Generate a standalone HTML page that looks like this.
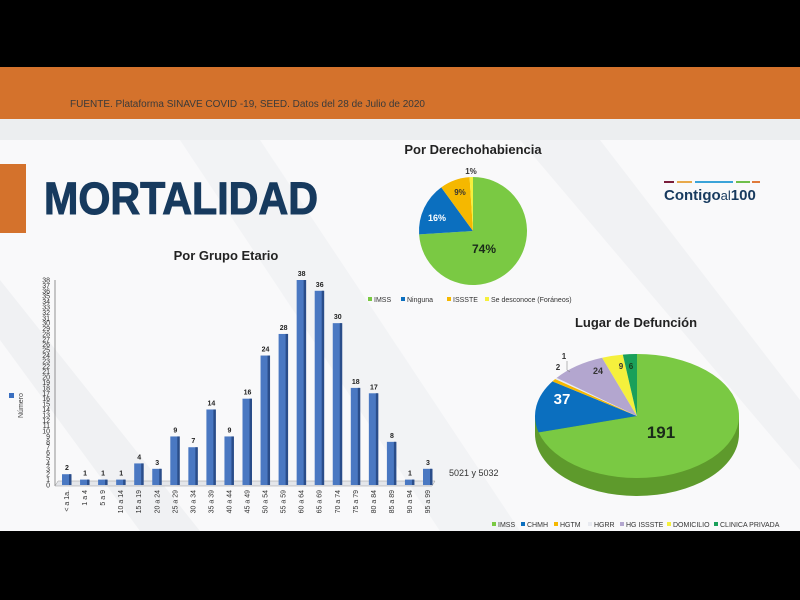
<!DOCTYPE html>
<html><head><meta charset="utf-8">
<style>
html,body{margin:0;padding:0;width:800px;height:600px;overflow:hidden;background:#000;}
svg{display:block;font-family:"Liberation Sans",sans-serif;}
</style></head>
<body>
<svg id="s" width="800" height="600" viewBox="0 0 800 600" xmlns="http://www.w3.org/2000/svg">
<rect x="0" y="0" width="800" height="600" fill="#000"/>
<rect x="0" y="67" width="800" height="464" fill="#f9f9fa"/>
<polygon points="180,140 260,140 520,531 440,531" fill="#f2f3f5"/>
<polygon points="520,140 600,140 800,400 800,470" fill="#f1f2f4"/>
<polygon points="0,280 0,340 140,531 200,531" fill="#f0f1f3"/>
<rect x="0" y="67" width="800" height="52" fill="#d4722c"/>
<rect x="0" y="119" width="800" height="21" fill="#eceef0"/>
<text x="70" y="107" font-size="10" fill="#3a3a3a">FUENTE. Plataforma SINAVE COVID -19, SEED. Datos del 28 de Julio de 2020</text>
<rect x="0" y="164" width="26" height="69" fill="#d4722c"/>
<text x="44" y="214" font-size="45" font-weight="bold" fill="#173a5e" stroke="#173a5e" stroke-width="1" textLength="274" lengthAdjust="spacingAndGlyphs">MORTALIDAD</text>
<text x="226" y="260" font-size="13" font-weight="bold" fill="#222" text-anchor="middle">Por Grupo Etario</text>
<text x="473" y="154" font-size="13" font-weight="bold" fill="#222" text-anchor="middle">Por Derechohabiencia</text>
<text x="636" y="327" font-size="13" font-weight="bold" fill="#222" text-anchor="middle">Lugar de Defunción</text>
<rect x="664" y="181" width="10" height="2" fill="#7a1d3a"/><rect x="677" y="181" width="15" height="2" fill="#e8a94a"/><rect x="695" y="181" width="38" height="2" fill="#3aa3d8"/><rect x="736" y="181" width="14" height="2" fill="#6fbf4a"/><rect x="752" y="181" width="8" height="2" fill="#e07a3a"/>
<text x="664" y="200" font-size="15" font-weight="bold" fill="#173a5e">Contigo<tspan font-weight="normal" font-size="13">al</tspan>100</text>
<g id="bars"></g>
<g id="p1"></g>
<g id="p2"></g>
<rect x="9" y="393" width="5" height="5" fill="#3a6fc0"/>
<text transform="translate(23,418) rotate(-90)" font-size="7" fill="#444">Número</text>
<text x="449" y="476" font-size="9" fill="#333">5021 y 5032</text>
<g font-size="7" fill="#333">
<rect x="368" y="297" width="4" height="4" fill="#7ac943"/><text x="374" y="302">IMSS</text>
<rect x="401" y="297" width="4" height="4" fill="#0b6fbf"/><text x="407" y="302">Ninguna</text>
<rect x="447" y="297" width="4" height="4" fill="#f5b800"/><text x="453" y="302">ISSSTE</text>
<rect x="485" y="297" width="4" height="4" fill="#f5f03c"/><text x="491" y="302">Se desconoce (Foráneos)</text>
</g>
<g font-size="7" fill="#333">
<rect x="492" y="522" width="4" height="4" fill="#7ac943"/><text x="498" y="527">IMSS</text>
<rect x="521" y="522" width="4" height="4" fill="#0b6fbf"/><text x="527" y="527">CHMH</text>
<rect x="554" y="522" width="4" height="4" fill="#f5b800"/><text x="560" y="527">HGTM</text>
<rect x="588" y="522" width="4" height="4" fill="#e8eaf0"/><text x="594" y="527">HGRR</text>
<rect x="620" y="522" width="4" height="4" fill="#b3a6cf"/><text x="626" y="527">HG ISSSTE</text>
<rect x="667" y="522" width="4" height="4" fill="#f5f03c"/><text x="673" y="527">DOMICILIO</text>
<rect x="714" y="522" width="4" height="4" fill="#1aa05a"/><text x="720" y="527">CLINICA PRIVADA</text>
</g>
</svg>
<script>
(function(){
var NS="http://www.w3.org/2000/svg";
function el(p,t,a,txt){var e=document.createElementNS(NS,t);for(var k in a)e.setAttribute(k,a[k]);if(txt!=null)e.textContent=txt;p.appendChild(e);return e;}
var g=document.getElementById('bars');
var vals=[2,1,1,1,4,3,9,7,14,9,16,24,28,38,36,30,18,17,8,1,3];
var cats=["< a 1a.","1 a 4","5 a 9","10 a 14","15 a 19","20 a 24","25 a 29","30 a 34","35 a 39","40 a 44","45 a 49","50 a 54","55 a 59","60 a 64","65 a 69","70 a 74","75 a 79","80 a 84","85 a 89","90 a 94","95 a 99"];
var y0=485, sc=205/38, x0=67, dx=(428-67)/20;
el(g,'line',{x1:55,y1:280,x2:55,y2:486,stroke:'#666','stroke-width':0.7});
el(g,'polygon',{points:"55,486 58,481 435,481 432,486",fill:'#e4e6ea',stroke:'#999','stroke-width':0.5});
for(var i=0;i<=38;i++){el(g,'text',{x:50,y:y0-i*sc+2.5,'font-size':7,fill:'#333','text-anchor':'end'},i);}
for(var i=0;i<vals.length;i++){
 var bx=x0+i*dx, h=vals[i]*sc, ty=y0-h;
 el(g,'rect',{x:bx-5,y:ty,width:9,height:h,fill:'#4a78c2'});
 el(g,'rect',{x:bx+2,y:ty,width:2.5,height:h,fill:'#2a4d8a'});
 el(g,'text',{x:bx,y:ty-4,'font-size':7,'font-weight':'bold',fill:'#222','text-anchor':'middle'},vals[i]);
 el(g,'text',{transform:'translate('+(bx+2)+',490) rotate(-90)','font-size':7,fill:'#333','text-anchor':'end'},cats[i]);
}
var p=document.getElementById('p1');var cx=473,cy=231,r=54;
var d1=[[74,'#7ac943'],[16,'#0b6fbf'],[9,'#f5b800'],[1,'#f5f03c']];var a=0;
d1.forEach(function(d){var a1=a+d[0]/100*2*Math.PI;var x1=cx+r*Math.sin(a),y1=cy-r*Math.cos(a),x2=cx+r*Math.sin(a1),y2=cy-r*Math.cos(a1);
el(p,'path',{d:'M'+cx+','+cy+'L'+x1+','+y1+'A'+r+','+r+' 0 '+(a1-a>Math.PI?1:0)+' 1 '+x2+','+y2+'Z',fill:d[1]});a=a1;});
el(p,'text',{x:484,y:253,'font-size':12,'font-weight':'bold',fill:'#1a2a1a','text-anchor':'middle'},'74%');
el(p,'text',{x:437,y:221,'font-size':9,'font-weight':'bold',fill:'#fff','text-anchor':'middle'},'16%');
el(p,'text',{x:460,y:195,'font-size':8,'font-weight':'bold',fill:'#333','text-anchor':'middle'},'9%');
el(p,'text',{x:471,y:174,'font-size':8,'font-weight':'bold',fill:'#333','text-anchor':'middle'},'1%');
var q=document.getElementById('p2');var ex=637,ey=416,rx=102,ry=62,dep=18;
el(q,'path',{d:'M'+(ex-rx)+','+ey+'L'+(ex-rx)+','+(ey+dep)+'A'+rx+','+ry+' 0 0 0 '+(ex+rx)+','+(ey+dep)+'L'+(ex+rx)+','+ey+'Z',fill:'#5e9a2c'});
var d2=[[191,'#7ac943'],[37,'#0b6fbf'],[2,'#f5b800'],[1,'#e8eaf0'],[24,'#b3a6cf'],[9,'#f5f03c'],[6,'#1aa05a']];a=0;
d2.forEach(function(d){var a1=a+d[0]/270*2*Math.PI;var x1=ex+rx*Math.sin(a),y1=ey-ry*Math.cos(a),x2=ex+rx*Math.sin(a1),y2=ey-ry*Math.cos(a1);
el(q,'path',{d:'M'+ex+','+ey+'L'+x1+','+y1+'A'+rx+','+ry+' 0 '+(a1-a>Math.PI?1:0)+' 1 '+x2+','+y2+'Z',fill:d[1]});a=a1;});
el(q,'text',{x:661,y:438,'font-size':17,'font-weight':'bold',fill:'#1a2a1a','text-anchor':'middle'},'191');
el(q,'text',{x:562,y:404,'font-size':15,'font-weight':'bold',fill:'#fff','text-anchor':'middle'},'37');
el(q,'text',{x:598,y:374,'font-size':9,'font-weight':'bold',fill:'#333','text-anchor':'middle'},'24');
el(q,'text',{x:621,y:369,'font-size':8,'font-weight':'bold',fill:'#333','text-anchor':'middle'},'9');
el(q,'text',{x:631,y:369,'font-size':8,'font-weight':'bold',fill:'#1a3a1a','text-anchor':'middle'},'6');
el(q,'text',{x:558,y:370,'font-size':8,'font-weight':'bold',fill:'#333','text-anchor':'middle'},'2');
el(q,'text',{x:564,y:359,'font-size':8,'font-weight':'bold',fill:'#333','text-anchor':'middle'},'1');
el(q,'polyline',{points:'567,361 567,370 570,372',fill:'none',stroke:'#888','stroke-width':0.6});
})();
</script>
</body></html>
